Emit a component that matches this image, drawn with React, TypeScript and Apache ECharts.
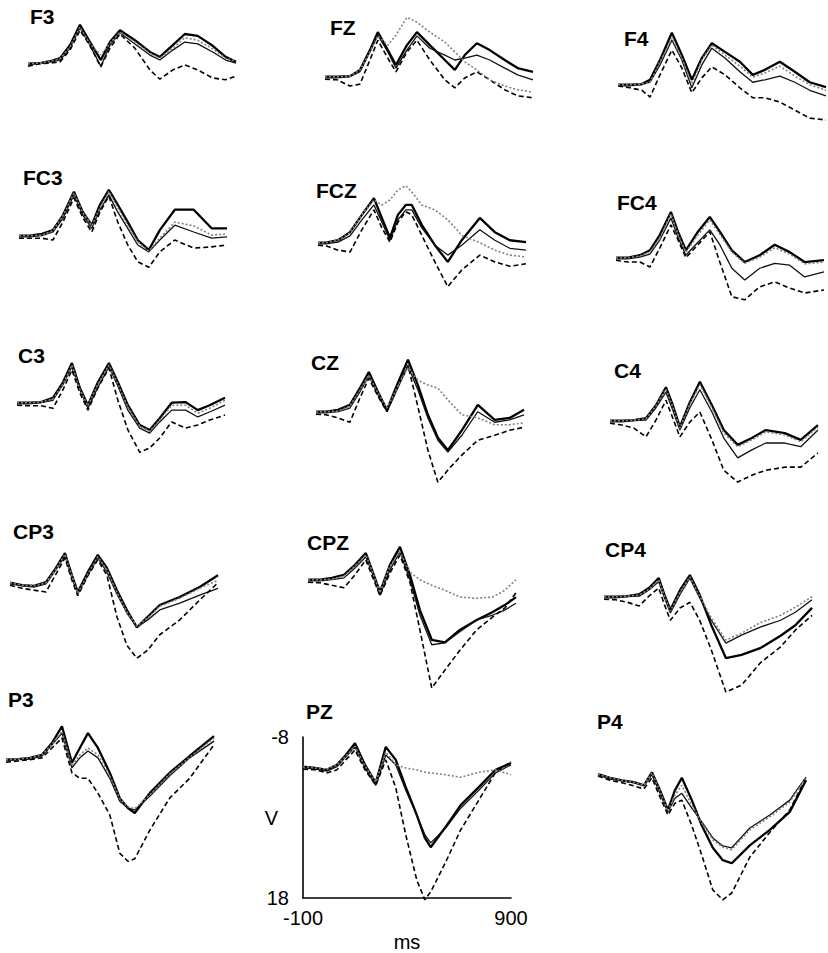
import React, { useEffect, useRef } from "react";
import * as echarts from "echarts";

// ---- time keys (ms) and amplitudes (µV, negative up) per electrode ----
const T_F3 = [-100,-42,6,54,102,150,198,250,294,342,414,486,534,596,654,716,788,850,900];
const F3_A = [-3.2,-3.3,-3.6,-4.1,-6.2,-9.5,-6.7,-3.8,-6.7,-8.6,-7.0,-5.1,-4.3,-6.2,-8.0,-7.7,-6.1,-4.3,-3.5];
const F3_B = [-3.0,-3.3,-3.5,-3.8,-5.7,-9.0,-6.2,-2.8,-6.2,-8.2,-6.4,-4.6,-3.8,-5.4,-6.7,-6.4,-5.1,-3.8,-3.3];
const F3_C = [-2.8,-3.2,-3.3,-3.5,-5.4,-8.6,-6.1,-2.7,-5.7,-8.0,-5.7,-2.2,-0.7,-2.2,-3.0,-2.2,-0.9,-0.6,-1.2];
const F3_D = [-3.2,-3.3,-3.6,-4.0,-5.9,-9.1,-6.4,-4.6,-6.5,-8.3,-6.7,-4.9,-4.1,-5.7,-7.4,-7.0,-5.6,-4.1,-3.6];

const T_FZ = [-100,-42,20,68,116,154,202,241,294,342,404,476,524,572,630,692,764,826,900];
const FZ_A = [-3.2,-3.2,-3.3,-4.3,-7.5,-10.4,-7.5,-5.1,-8.3,-10.4,-8.3,-5.9,-4.3,-6.7,-8.6,-7.5,-5.9,-4.6,-4.0];
const FZ_B = [-3.0,-3.0,-3.2,-4.0,-7.2,-9.9,-7.2,-4.6,-7.5,-9.8,-7.8,-6.7,-5.9,-6.2,-6.7,-5.9,-4.6,-3.5,-2.7];
const FZ_C = [-2.8,-2.7,-1.7,-2.0,-5.9,-9.1,-6.2,-4.0,-7.2,-9.1,-5.9,-2.7,-1.4,-3.0,-4.0,-2.7,-1.1,-0.1,0.2];
const FZ_D = [-3.2,-3.2,-3.3,-4.3,-7.2,-9.8,-8.3,-9.9,-12.8,-12.0,-10.4,-8.8,-7.2,-5.6,-4.3,-2.7,-1.7,-1.1,-0.7];

const T_F4 = [-100,-42,15,54,102,159,207,255,303,351,414,486,548,606,678,750,822,900];
const F4_A = [-3.2,-3.2,-3.3,-4.0,-7.2,-11.6,-8.0,-4.0,-7.5,-9.9,-8.5,-6.9,-4.8,-5.6,-6.9,-5.3,-3.6,-2.8];
const F4_B = [-3.0,-3.0,-3.2,-3.6,-6.4,-10.4,-7.2,-2.7,-6.4,-9.1,-7.5,-5.3,-3.6,-4.0,-4.6,-3.6,-2.3,-1.4];
const F4_C = [-3.0,-2.7,-2.3,-1.2,-4.8,-8.8,-5.9,-1.9,-4.3,-6.1,-4.8,-2.7,-1.1,-1.1,-0.4,0.9,2.2,2.5];
const F4_D = [-3.2,-3.2,-3.3,-3.6,-6.9,-10.7,-7.5,-3.3,-7.2,-9.6,-8.0,-6.2,-4.4,-5.1,-6.2,-4.6,-3.2,-2.3];

const T_FC3 = [-100,-47,10,63,111,164,207,250,289,332,375,423,471,524,577,649,740,826,900];
const FC3_A = [-3.2,-3.2,-3.5,-4.1,-6.5,-10.3,-7.0,-4.9,-8.2,-10.6,-8.2,-5.4,-2.5,-0.9,-4.1,-7.4,-7.4,-4.4,-4.4];
const FC3_B = [-3.0,-3.0,-3.2,-3.8,-6.0,-9.8,-6.5,-4.4,-7.4,-9.8,-7.0,-4.4,-1.7,-0.6,-2.5,-4.9,-3.8,-2.8,-3.0];
const FC3_C = [-2.8,-2.8,-2.8,-2.5,-5.4,-9.3,-6.1,-3.8,-7.0,-9.6,-5.4,-1.7,1.0,1.9,-0.6,-2.5,-1.2,-1.4,-1.7];
const FC3_D = [-3.2,-3.2,-3.3,-4.0,-6.4,-10.1,-6.9,-4.8,-7.7,-10.3,-7.7,-4.9,-2.2,-0.7,-2.8,-5.4,-4.8,-3.3,-3.5];

const T_FCZ = [-100,-62,-4,54,111,169,207,246,284,322,351,399,462,524,591,678,750,822,900];
const FCZ_A = [-3.2,-3.2,-3.6,-4.9,-7.7,-10.4,-7.2,-4.0,-7.7,-9.3,-9.3,-6.1,-2.8,-0.1,-3.6,-7.2,-4.9,-3.6,-3.3];
const FCZ_B = [-3.0,-3.0,-3.3,-4.3,-6.9,-9.3,-6.5,-3.6,-6.9,-8.5,-8.5,-5.6,-2.8,-1.2,-2.8,-5.3,-3.6,-2.3,-2.0];
const FCZ_C = [-2.8,-2.7,-2.0,-1.7,-5.3,-8.5,-5.6,-3.3,-6.5,-8.2,-7.7,-4.4,-0.1,3.9,1.2,-1.2,-0.1,0.6,0.2];
const FCZ_D = [-3.2,-3.2,-3.6,-4.8,-7.7,-10.1,-9.3,-10.1,-11.7,-12.4,-11.4,-9.3,-8.5,-6.9,-4.4,-3.2,-2.0,-1.2,-0.9];

const T_FC4 = [-100,-42,15,63,111,164,198,236,294,351,399,457,519,591,663,735,807,900];
const FC4_A = [-3.2,-3.2,-3.6,-4.4,-6.9,-10.6,-7.4,-4.4,-7.4,-9.8,-7.4,-4.4,-2.5,-3.6,-5.3,-4.1,-2.5,-2.8];
const FC4_B = [-3.0,-3.0,-3.3,-3.8,-6.1,-9.6,-6.5,-3.6,-5.7,-7.7,-5.3,-1.5,0.4,-1.5,-2.3,-2.0,-0.1,-0.9];
const FC4_C = [-2.8,-2.5,-2.5,-1.7,-4.8,-8.5,-6.1,-3.2,-5.3,-7.4,-2.5,3.1,3.6,1.5,0.7,1.7,2.5,2.0];
const FC4_D = [-3.2,-3.2,-3.5,-4.1,-6.4,-10.3,-7.0,-4.1,-6.9,-9.3,-7.0,-4.1,-2.3,-3.3,-4.8,-3.8,-2.2,-2.5];

const T_C3 = [-100,-42,15,73,121,164,202,241,289,342,385,433,490,538,586,644,711,769,826,900];
const C3_A = [-3.2,-3.2,-3.3,-4.0,-6.5,-9.6,-5.6,-2.8,-6.5,-9.6,-6.5,-2.8,0.4,1.2,-0.7,-3.2,-3.3,-2.0,-2.8,-4.0];
const C3_B = [-3.0,-3.0,-3.2,-3.6,-6.1,-9.0,-5.3,-2.3,-5.7,-9.0,-5.9,-2.0,0.9,1.7,-0.1,-2.0,-2.0,-0.9,-1.7,-2.8];
const C3_C = [-2.8,-2.7,-2.7,-2.3,-5.3,-8.5,-4.8,-2.0,-5.6,-8.8,-3.6,1.2,4.8,4.1,2.5,-0.1,0.9,0.4,-0.4,-1.2];
const C3_D = [-3.2,-3.2,-3.3,-3.8,-6.2,-9.3,-5.4,-2.7,-6.2,-9.3,-6.2,-2.5,0.6,1.4,-0.4,-2.8,-2.8,-1.5,-2.3,-3.6];

const T_CZ = [-100,-52,6,63,111,154,198,241,289,342,390,438,486,534,601,678,759,831,900];
const CZ_A = [-3.2,-3.2,-3.5,-4.3,-7.0,-9.6,-6.4,-3.5,-7.5,-11.6,-7.5,-2.7,1.0,3.0,-0.2,-4.3,-1.9,-2.2,-3.5];
const CZ_B = [-3.0,-3.0,-3.2,-3.8,-6.4,-9.0,-5.9,-3.2,-6.7,-10.6,-6.7,-2.2,1.4,3.3,0.6,-3.2,-1.5,-1.9,-2.7];
const CZ_C = [-2.8,-2.7,-2.2,-1.5,-5.4,-8.6,-5.7,-3.2,-7.0,-10.7,-4.0,3.0,8.2,6.2,3.8,1.4,0.6,-0.2,-0.7];
const CZ_D = [-3.2,-3.2,-3.3,-4.1,-6.7,-9.1,-6.2,-3.8,-7.0,-10.3,-8.3,-7.5,-7.0,-5.1,-2.7,-2.2,-1.1,-1.1,-1.4];

const T_C4 = [-100,-42,15,73,121,169,202,236,284,332,390,447,514,582,649,740,817,900];
const C4_A = [-3.2,-3.2,-3.3,-3.6,-5.7,-8.6,-5.7,-2.2,-6.2,-9.5,-5.7,-1.7,0.7,-0.4,-1.7,-1.2,-0.1,-2.5];
const C4_B = [-3.0,-3.0,-3.2,-3.3,-5.3,-7.8,-4.9,-1.7,-5.3,-8.2,-4.6,-0.4,2.8,1.5,0.4,0.4,1.0,-1.7];
const C4_C = [-2.8,-2.5,-2.0,-0.6,-3.3,-6.5,-3.6,-0.6,-3.0,-4.6,-0.1,4.8,6.7,5.6,4.8,4.3,4.3,2.0];
const C4_D = [-3.2,-3.2,-3.3,-3.5,-5.6,-8.3,-5.4,-2.0,-5.9,-9.0,-5.3,-1.2,1.0,-0.1,-1.4,-0.9,0.2,-2.2];

const T_CP3 = [-100,-42,15,73,121,164,198,226,274,322,366,414,462,510,562,620,716,812,900];
const CP3_A = [-3.2,-2.8,-2.7,-3.3,-5.6,-8.0,-4.4,-1.7,-4.9,-7.7,-5.6,-2.0,1.2,4.0,2.3,0.4,-0.9,-2.5,-4.4];
const CP3_B = [-3.0,-2.7,-2.5,-3.0,-5.3,-7.5,-4.0,-1.4,-4.4,-7.2,-4.9,-1.4,1.7,4.0,2.8,1.2,0.1,-1.2,-2.3];
const CP3_C = [-2.8,-2.3,-2.0,-1.7,-4.6,-7.2,-3.6,-1.1,-4.3,-6.9,-4.4,2.3,6.9,9.0,7.7,5.2,2.8,-0.4,-3.2];
const CP3_D = [-3.2,-2.8,-2.7,-3.2,-5.4,-7.8,-4.3,-1.5,-4.6,-7.4,-5.3,-1.7,1.5,3.8,2.5,0.6,-0.7,-2.3,-3.6];

const T_CPZ = [-100,-42,15,73,126,178,212,246,294,342,390,438,495,558,630,711,788,846,900];
const CPZ_A = [-3.2,-3.2,-3.5,-4.0,-5.6,-7.5,-4.4,-1.2,-5.6,-8.5,-4.0,1.7,6.5,6.9,4.9,3.3,2.0,0.9,-0.4];
const CPZ_B = [-3.0,-3.0,-3.2,-3.5,-5.1,-6.9,-4.0,-0.7,-4.8,-7.7,-3.2,2.5,7.3,7.0,5.2,3.3,2.5,1.7,0.6];
const CPZ_C = [-2.8,-2.7,-2.3,-1.9,-4.0,-6.4,-3.5,-0.6,-4.3,-7.2,-2.8,4.9,14.3,11.4,8.2,4.9,2.8,1.4,-1.1];
const CPZ_D = [-3.2,-3.2,-3.3,-3.8,-5.4,-7.2,-4.3,-1.1,-5.4,-7.7,-4.4,-3.2,-2.3,-1.5,-0.4,-0.2,-0.4,-1.5,-3.2];

const T_CP4 = [-100,-44,13,69,116,163,191,219,266,313,360,416,486,561,651,749,820,900];
const CP4_A = [-3.2,-3.2,-3.3,-3.6,-4.6,-6.2,-3.5,-1.1,-4.3,-6.7,-3.5,1.4,6.7,6.2,5.1,3.1,1.4,-1.4];
const CP4_B = [-3.0,-3.0,-3.2,-3.3,-4.3,-5.6,-3.0,-0.6,-3.6,-6.2,-3.0,0.6,4.3,3.0,1.7,0.6,-0.7,-2.7];
const CP4_C = [-2.8,-2.7,-2.3,-1.7,-3.3,-4.6,-1.9,0.6,-1.4,-2.3,0.6,5.4,12.2,11.1,7.5,4.9,2.2,-0.2];
const CP4_D = [-3.2,-3.2,-3.3,-3.5,-4.4,-5.9,-3.3,-0.9,-4.0,-6.4,-3.3,0.2,3.8,2.7,1.0,-0.2,-1.5,-3.2];

const T_P3 = [-100,-42,15,73,121,169,217,255,294,342,399,447,486,519,591,687,783,900];
const P3_A = [-3.2,-3.3,-3.5,-4.0,-5.9,-8.6,-2.7,-5.1,-7.5,-5.1,-1.1,3.0,4.6,5.4,2.2,-1.1,-3.8,-7.0];
const P3_B = [-3.0,-3.2,-3.3,-3.8,-5.6,-7.5,-1.9,-3.5,-4.6,-3.5,-0.2,3.5,4.6,4.9,2.7,-0.6,-3.5,-6.2];
const P3_C = [-2.8,-3.0,-3.2,-3.5,-5.1,-6.7,-1.1,-0.2,-0.2,2.2,5.7,11.9,13.2,12.8,8.2,3.0,-0.2,-5.6];
const P3_D = [-3.2,-3.3,-3.5,-4.0,-5.7,-7.8,-2.2,-4.0,-5.1,-4.0,-0.6,3.1,4.4,4.7,2.5,-0.9,-3.6,-6.7];

const T_PZ = [-100,-42,15,63,106,150,198,250,298,346,394,447,486,514,586,658,745,826,900];
const PZ_A = [-3.2,-3.0,-2.7,-3.5,-5.1,-7.0,-3.5,-0.6,-6.4,-4.3,0.1,4.6,8.3,9.8,6.5,3.0,0.1,-2.7,-3.8];
const PZ_B = [-3.0,-2.8,-2.5,-3.2,-4.8,-6.4,-3.0,-0.2,-5.1,-3.5,0.6,4.6,7.8,9.1,6.7,3.5,0.6,-2.2,-3.5];
const PZ_C = [-2.8,-2.7,-2.2,-2.7,-4.3,-5.9,-2.7,-0.2,-4.3,0.2,7.8,15.1,18.3,17.0,12.2,7.0,2.2,-2.3,-4.0];
const PZ_D = [-3.2,-3.0,-2.8,-3.5,-4.9,-6.5,-3.3,-0.7,-5.6,-3.5,-3.0,-2.7,-2.3,-2.2,-1.9,-1.5,-2.3,-2.7,-1.9];

const T_P4 = [-100,-42,15,73,121,159,198,236,270,303,351,399,452,500,543,630,726,822,900];
const P4_A = [-3.3,-2.7,-2.3,-2.0,-1.5,-3.6,-0.7,2.5,-0.7,-2.7,0.9,5.0,8.6,10.6,11.1,8.2,5.7,2.8,-2.3];
const P4_B = [-3.2,-2.5,-2.2,-1.9,-1.4,-3.2,-0.2,2.8,0.6,-0.2,2.2,4.4,7.0,8.3,8.6,5.4,3.3,0.9,-2.8];
const P4_C = [-3.0,-2.3,-1.9,-1.4,-0.9,-2.7,0.4,3.3,1.4,0.9,5.0,9.8,15.4,17.0,15.9,10.1,6.1,2.5,-2.7];
const P4_D = [-3.3,-2.7,-2.3,-2.0,-1.5,-3.5,-0.6,2.7,0.1,-1.5,1.7,4.6,7.3,8.5,8.9,5.7,3.6,1.2,-2.7];

const Y_MIN = -8;
const Y_MAX = 18;
const X_MIN = -100;
const X_MAX = 900;
const Y_LABELS = [-8, 18];
const X_LABELS = [-100, 900];

// ---- layout (pixels) ----
const PANELS = [
  { name: "F3", t: T_F3, v: [F3_A, F3_B, F3_C, F3_D], left: 28, top: 34, lx: 30, ly: 16 },
  { name: "FZ", t: T_FZ, v: [FZ_A, FZ_B, FZ_C, FZ_D], left: 325, top: 47, lx: 330, ly: 27 },
  { name: "F4", t: T_F4, v: [F4_A, F4_B, F4_C, F4_D], left: 618, top: 55, lx: 624, ly: 38 },
  { name: "FC3", t: T_FC3, v: [FC3_A, FC3_B, FC3_C, FC3_D], left: 19, top: 206, lx: 23, ly: 177 },
  { name: "FCZ", t: T_FCZ, v: [FCZ_A, FCZ_B, FCZ_C, FCZ_D], left: 318, top: 213, lx: 316, ly: 190 },
  { name: "FC4", t: T_FC4, v: [FC4_A, FC4_B, FC4_C, FC4_D], left: 616, top: 228, lx: 617, ly: 202 },
  { name: "C3", t: T_C3, v: [C3_A, C3_B, C3_C, C3_D], left: 17, top: 373, lx: 18, ly: 355 },
  { name: "CZ", t: T_CZ, v: [CZ_A, CZ_B, CZ_C, CZ_D], left: 316, top: 382, lx: 311, ly: 362 },
  { name: "C4", t: T_C4, v: [C4_A, C4_B, C4_C, C4_D], left: 610, top: 391, lx: 614, ly: 370 },
  { name: "CP3", t: T_CP3, v: [CP3_A, CP3_B, CP3_C, CP3_D], left: 10, top: 553, lx: 13, ly: 531 },
  { name: "CPZ", t: T_CPZ, v: [CPZ_A, CPZ_B, CPZ_C, CPZ_D], left: 308, top: 550, lx: 307, ly: 542 },
  { name: "CP4", t: T_CP4, v: [CP4_A, CP4_B, CP4_C, CP4_D], left: 604, top: 567, lx: 605, ly: 549 },
  { name: "P3", t: T_P3, v: [P3_A, P3_B, P3_C, P3_D], left: 6, top: 730, lx: 8, ly: 699 },
  { name: "PZ", t: T_PZ, v: [PZ_A, PZ_B, PZ_C, PZ_D], left: 303, top: 737, lx: 306, ly: 711, axes: true },
  { name: "P4", t: T_P4, v: [P4_A, P4_B, P4_C, P4_D], left: 598, top: 745, lx: 597, ly: 721 },
];
const PANEL_W = 208;
const PANEL_H = 161;

const LINE_STYLES = [
  { color: "#000", width: 2.3, type: "solid" },
  { color: "#111", width: 1.3, type: "solid" },
  { color: "#000", width: 1.6, type: [5, 3] },
  { color: "#808080", width: 1.6, type: [2, 2] },
];
const DRAW_ORDER = [3, 2, 1, 0];
const FONT = '"Liberation Sans", Arial, sans-serif';

export default function App() {
  const ref = useRef<HTMLDivElement>(null);
  useEffect(() => {
    if (!ref.current) return;
    const chart = echarts.init(ref.current, null, { renderer: "svg" });
    const grid = PANELS.map((p) => ({ left: p.left, top: p.top, width: PANEL_W, height: PANEL_H }));
    const xAxis = PANELS.map((p, i) => ({
      type: "value",
      gridIndex: i,
      min: X_MIN,
      max: X_MAX,
      show: !!p.axes,
      splitLine: { show: false },
      axisTick: { show: false },
      axisLine: { show: !!p.axes, onZero: false, lineStyle: { color: "#000", width: 1.6 } },
      axisLabel: {
        show: !!p.axes,
        customValues: X_LABELS,
        color: "#000",
        fontSize: 20,
        fontFamily: FONT,
        margin: 10,
      },
      name: p.axes ? "ms" : "",
      nameLocation: "middle",
      nameGap: 34,
      nameMoveOverlap: false,
      nameTextStyle: { color: "#000", fontSize: 20, fontFamily: FONT },
    }));
    const yAxis = PANELS.map((p, i) => ({
      type: "value",
      gridIndex: i,
      min: Y_MIN,
      max: Y_MAX,
      inverse: true,
      show: !!p.axes,
      splitLine: { show: false },
      axisTick: { show: false },
      axisLine: { show: !!p.axes, onZero: false, lineStyle: { color: "#000", width: 1.6 } },
      axisLabel: {
        show: !!p.axes,
        customValues: Y_LABELS,
        color: "#000",
        fontSize: 20,
        fontFamily: FONT,
        margin: 14,
      },
      name: p.axes ? "V" : "",
      nameLocation: "middle",
      nameGap: 25,
      nameRotate: 0,
      nameMoveOverlap: false,
      nameTextStyle: { color: "#000", fontSize: 20, fontFamily: FONT },
    }));
    const series: any[] = [];
    PANELS.forEach((p, i) => {
      DRAW_ORDER.forEach((k) => {
        const ls = LINE_STYLES[k];
        series.push({
          type: "line",
          xAxisIndex: i,
          yAxisIndex: i,
          data: p.t.map((t, j) => [t, p.v[k][j]]),
          showSymbol: false,
          symbol: "none",
          clip: false,
          silent: true,
          lineStyle: { color: ls.color, width: ls.width, type: ls.type },
          z: 2 + (3 - DRAW_ORDER.indexOf(k)),
        });
      });
    });
    const graphic = PANELS.map((p) => ({
      type: "text",
      x: p.lx,
      y: p.ly,
      style: {
        text: p.name,
        fill: "#000",
        font: `bold 21px ${FONT}`,
        verticalAlign: "middle",
      },
    }));
    chart.setOption({
      animation: false,
      backgroundColor: "#fff",
      grid,
      xAxis,
      yAxis,
      series,
      graphic,
    });
    return () => chart.dispose();
  }, []);
  return (
    <div
      ref={ref}
      style={{ position: "fixed", left: 0, top: 0, width: 828, height: 953, background: "#fff" }}
    />
  );
}
